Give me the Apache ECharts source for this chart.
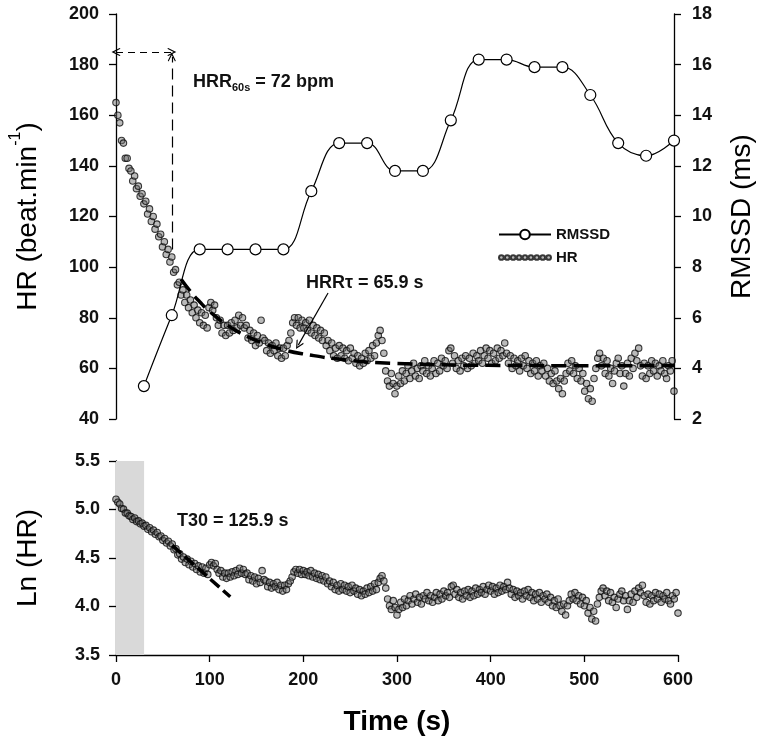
<!DOCTYPE html>
<html>
<head>
<meta charset="utf-8">
<script src="https://cdn.jsdelivr.net/npm/echarts@6/dist/echarts.min.js"></script>
<style>html,body{margin:0;padding:0;background:#fff;}#chart{width:764px;height:744px;}</style>
</head>
<body>
<div id="chart"></div>
<script>
// ---- data ----
const hrStepSec = 2; // HR sampled every 2 s starting at 0 s
const hrValues = [
165,160,157,150,149,143,143,139,138,134,
136,131,132,128,129,125,126,121,123,118,
120,115,117,112,113,108,110,105,107,102,
104,98,99,93,94,89,91,86,89,84,
87,82,85,80,83,78,82,77,81,76,
84,86,83,85,80,77,79,74,77,73,
77,74,78,75,79,76,81,77,80,76,
77,72,75,71,74,69,73,70,79,72,
71,67,70,66,69,67,70,65,68,64,
68,65,69,71,74,78,80,77,80,76,
79,76,78,75,79,74,77,73,76,72,
75,71,74,69,71,67,70,65,68,64,
69,65,68,64,67,63,68,64,66,62,
65,61,64,62,66,63,67,64,69,65,
70,73,75,71,66,59,55,53,58,54,
50,53,57,54,59,55,58,61,56,59,
62,57,60,56,61,59,63,58,61,57,
60,63,58,62,59,64,61,63,60,67,
68,62,65,60,63,59,64,61,65,60,
64,61,66,62,65,63,67,62,65,68,
64,67,62,66,63,68,64,67,65,70,
66,62,65,60,64,61,63,59,64,61,
65,60,63,58,62,59,63,57,61,59,
62,57,60,55,58,54,59,55,52,56,
50,55,58,62,59,63,58,61,56,60,
55,58,51,54,48,52,47,56,60,64,
66,61,64,58,63,57,60,54,59,62,
64,58,61,53,58,62,57,64,60,66,
63,68,61,57,62,56,61,58,63,59,
62,57,61,59,63,58,56,61,59,63,
51
];
const rmssdTimes = [30,60,90,120,150,180,210,240,270,300,330,360,390,420,450,480,510,540,570,600];
const rmssdValues = [3.3,6.1,8.7,8.7,8.7,8.7,11.0,12.9,12.9,11.8,11.8,13.8,16.2,16.2,15.9,15.9,14.8,12.9,12.4,13.0];
const hrFitTimes = [70,80,90,100,120,140,160,180,200,250,300,400,500,600];
const hrFitValues = [95.2,90.4,86.3,82.7,77.0,72.8,69.7,67.4,65.8,63.2,62.0,61.2,61.05,61.0];
const lnFitTimes = [60,122];
const lnFitValues = [4.63,4.10];
const hrTicks = {min:40,max:200,step:20};
const rmssdTicks = {min:2,max:18,step:2};
const lnTicks = {min:3.5,max:5.5,step:0.5};
const timeTicks = {min:0,max:600,step:100};
const shadeWindow = [0,30];
const hrr60 = {t:60, hrTop:185, hrArrowTip:183, hrAt60:107};
const tauArrow = {from:[228,89.8], to:[196,69.2]};

// ---- build ----
const hrPairs = hrValues.map((v,i)=>[i*hrStepSec, v]);
const lnPairs = hrValues.map((v,i)=>[i*hrStepSec, Math.log(v)]);
const rmssdPairs = rmssdTimes.map((t,i)=>[t, rmssdValues[i]]);
const hrFitPairs = hrFitTimes.map((t,i)=>[t, hrFitValues[i]]);
const lnFitPairs = lnFitTimes.map((t,i)=>[t, lnFitValues[i]]);

const FONT = 'Liberation Sans, Arial, sans-serif';
const axisLineStyle = {show:true, lineStyle:{color:'#000', width:1.3}};
const tickStyle = {show:true, inside:false, length:7, lineStyle:{color:'#000', width:1.3}};
const labelStyle = {color:'#111', fontSize:18, fontWeight:'bold', fontFamily:FONT};
const nameStyle = {color:'#000', fontSize:28, fontFamily:FONT};
const arrowHead = 'path://M5,0 L10,9 L9,10 L5,3 L1,10 L0,9 Z';
const hrIcon = 'path://M1,5a4,4 0 1,0 8,0a4,4 0 1,0 -8,0M11,5a4,4 0 1,0 8,0a4,4 0 1,0 -8,0M21,5a4,4 0 1,0 8,0a4,4 0 1,0 -8,0M31,5a4,4 0 1,0 8,0a4,4 0 1,0 -8,0M41,5a4,4 0 1,0 8,0a4,4 0 1,0 -8,0M51,5a4,4 0 1,0 8,0a4,4 0 1,0 -8,0M61,5a4,4 0 1,0 8,0a4,4 0 1,0 -8,0M71,5a4,4 0 1,0 8,0a4,4 0 1,0 -8,0M81,5a4,4 0 1,0 8,0a4,4 0 1,0 -8,0';
const markerStyle = {color:'rgba(110,110,110,0.6)', borderColor:'#0d0d0d', borderWidth:1.1};

const chart = echarts.init(document.getElementById('chart'), null, {renderer:'canvas'});
const option = {
  animation:false,
  backgroundColor:'#fff',
  textStyle:{fontFamily:FONT},
  grid:[
    {left:116, right:86, top:14, height:405},
    {left:116, right:86, top:461, height:194}
  ],
  legend:{
    orient:'vertical', left:493, top:222, itemWidth:52, itemHeight:12, itemGap:8,
    selectedMode:false,
    textStyle:{color:'#111', fontSize:15, fontWeight:'bold', fontFamily:FONT},
    data:[{name:'RMSSD'},{name:'HR', icon:hrIcon}]
  },
  xAxis:[
    {gridIndex:0, type:'value', min:timeTicks.min, max:timeTicks.max, interval:timeTicks.step, show:false},
    {gridIndex:1, type:'value', min:timeTicks.min, max:timeTicks.max, interval:timeTicks.step,
     axisLine:axisLineStyle, axisTick:tickStyle, axisLabel:Object.assign({margin:16}, labelStyle),
     splitLine:{show:false}, name:'Time (s)', nameLocation:'middle', nameGap:53,
     nameTextStyle:{color:'#000', fontSize:28, fontWeight:'bold', fontFamily:FONT}}
  ],
  yAxis:[
    {gridIndex:0, type:'value', position:'left', min:hrTicks.min, max:hrTicks.max, interval:hrTicks.step,
     axisLine:axisLineStyle, axisTick:tickStyle, axisLabel:Object.assign({margin:17}, labelStyle),
     splitLine:{show:false}, name:'{a|HR (beat.min}{s|-1}{a|)}', nameLocation:'middle', nameGap:74,
     nameTextStyle:{color:'#000', fontFamily:FONT, rich:{a:{fontSize:28, lineHeight:34, verticalAlign:'bottom', fontFamily:FONT, color:'#000'}, s:{fontSize:16, lineHeight:16, verticalAlign:'top', fontFamily:FONT, color:'#000'}}}},
    {gridIndex:0, type:'value', position:'right', min:rmssdTicks.min, max:rmssdTicks.max, interval:rmssdTicks.step,
     axisLine:axisLineStyle, axisTick:tickStyle, axisLabel:Object.assign({margin:18}, labelStyle),
     splitLine:{show:false}, name:'RMSSD (ms)', nameLocation:'middle', nameGap:54, nameTextStyle:nameStyle},
    {gridIndex:1, type:'value', position:'left', min:lnTicks.min, max:lnTicks.max, interval:lnTicks.step,
     axisLine:axisLineStyle, axisTick:tickStyle, axisLabel:Object.assign({margin:16, formatter:v=>v.toFixed(1)}, labelStyle),
     splitLine:{show:false}, name:'Ln (HR)', nameLocation:'middle', nameGap:74, nameTextStyle:nameStyle}
  ],
  series:[
    {name:'HR', type:'scatter', xAxisIndex:0, yAxisIndex:0, data:hrPairs, symbol:'circle', symbolSize:6.5,
     itemStyle:markerStyle, z:2, silent:true},
    {name:'HR fit', type:'line', xAxisIndex:0, yAxisIndex:0, data:hrFitPairs, smooth:true, showSymbol:false, symbol:'none',
     lineStyle:{color:'#000', width:3.5, type:[15,7]}, z:3, silent:true,
     markLine:{silent:true, symbol:['none', arrowHead], symbolSize:[8,9], label:{show:false},
       lineStyle:{color:'#000', width:1.2, type:'solid'},
       data:[[{coord:tauArrow.from},{coord:tauArrow.to}]]}},
    {name:'HRR60 h', type:'scatter', xAxisIndex:0, yAxisIndex:0, data:[], silent:true,
     markLine:{silent:true, symbol:[arrowHead, arrowHead], symbolSize:[8,9], label:{show:false},
       lineStyle:{color:'#000', width:1.2, type:[7,5]},
       data:[[{coord:[0,hrr60.hrTop]},{coord:[hrr60.t,hrr60.hrTop]}]]}},
    {name:'HRR60 v', type:'scatter', xAxisIndex:0, yAxisIndex:0, data:[], silent:true,
     markLine:{silent:true, symbol:['none', arrowHead], symbolSize:[8,9], label:{show:false},
       lineStyle:{color:'#000', width:1.2, type:[11,6]},
       data:[[{coord:[hrr60.t,hrr60.hrAt60]},{coord:[hrr60.t,hrr60.hrArrowTip]}]]}},
    {name:'RMSSD', type:'line', xAxisIndex:0, yAxisIndex:1, data:rmssdPairs, smooth:0.4,
     symbol:'circle', symbolSize:11, showAllSymbol:true,
     itemStyle:{color:'#fff', borderColor:'#000', borderWidth:1.2},
     lineStyle:{color:'#000', width:1.2}, z:5, silent:true},
    {name:'Ln HR', type:'scatter', xAxisIndex:1, yAxisIndex:2, data:lnPairs, symbol:'circle', symbolSize:6.5,
     itemStyle:markerStyle, z:2, silent:true,
     markArea:{silent:true, itemStyle:{color:'#d9d9d9'}, data:[[{xAxis:shadeWindow[0]},{xAxis:shadeWindow[1]}]]}},
    {name:'Ln fit', type:'line', xAxisIndex:1, yAxisIndex:2, data:lnFitPairs, showSymbol:false, symbol:'none',
     lineStyle:{color:'#000', width:3.5, type:[12,5]}, z:3, silent:true}
  ],
  graphic:[
    {type:'text', left:193, top:73, silent:true,
     style:{text:'{a|HRR}{b|60s}{a| = 72 bpm}', fill:'#111',
       rich:{a:{fontSize:18, lineHeight:20, verticalAlign:'top', fontFamily:FONT, fontWeight:'bold', fill:'#111'},
             b:{fontSize:11, lineHeight:12, verticalAlign:'bottom', fontFamily:FONT, fontWeight:'bold', fill:'#111'}}}},
    {type:'text', left:306, top:274, silent:true,
     style:{text:'HRRτ = 65.9 s', fill:'#111', fontSize:18, fontWeight:'bold', fontFamily:FONT}},
    {type:'text', left:177, top:512, silent:true,
     style:{text:'T30 = 125.9 s', fill:'#111', fontSize:18, fontWeight:'bold', fontFamily:FONT}}
  ]
};
chart.setOption(option);
</script>
</body>
</html>
